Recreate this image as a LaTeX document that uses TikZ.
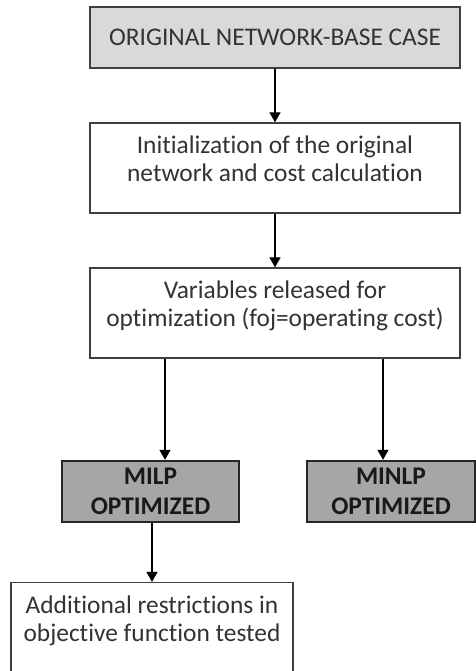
\documentclass[tikz,border=0pt]{standalone}
\usepackage{fontspec}
\setmainfont{Carlito}[Ligatures=NoCommon]
\usetikzlibrary{arrows.meta}
\definecolor{basegray}{RGB}{217,217,217}
\definecolor{optgray}{RGB}{166,166,166}
\definecolor{framegray}{RGB}{64,64,64}

\begin{document}
\begin{tikzpicture}[x=0.5pt, y=-0.5pt,
    stepbox/.style={draw=framegray, line width=0.65pt, fill=white, align=center, inner sep=0pt,
        font=\fontsize{12.7}{14}\selectfont, text=black!80},
    twoline/.style={minimum height=45pt, text depth=8.9pt},
    optbox/.style={draw=black!85, line width=1.2pt, fill=optgray, align=center, inner sep=0pt,
        font=\fontsize{12.7}{15}\selectfont\bfseries, text=black!90, minimum height=30.5pt},
    arrow/.style={black, line width=0.6pt, -{Triangle[width=5.5pt,length=5pt]}}]
    \path[use as bounding box, clip] (0,0) rectangle (476,671);

    % Base case and set-up
    \node[stepbox, fill=basegray, minimum width=185pt, minimum height=30.5pt] (base) at (275,37.5)
        {ORIGINAL NETWORK-BASE CASE};
    \node[stepbox, twoline, minimum width=185pt] (init) at (275,168)
        {Initialization of the original\\network and cost calculation};
    \node[stepbox, twoline, minimum width=185pt] (vars) at (275,313)
        {Variables released for\\optimization (foj=operating cost)};

    % Optimized cases
    \node[optbox, minimum width=88.5pt] (milp) at (150.5,491.5) {MILP\\OPTIMIZED};
    \node[optbox, minimum width=84pt] (minlp) at (391,491.5) {MINLP\\OPTIMIZED};
    \node[stepbox, twoline, minimum width=141pt] (tested) at (152,627.5)
        {Additional restrictions in\\objective function tested};

    % Connectors
    \draw[arrow] (base) -- (init);
    \draw[arrow] (init) -- (vars);
    \draw[arrow] ([xshift=7.25pt]milp.north |- vars.south) -- ([xshift=7.25pt]milp.north);
    \draw[arrow] ([xshift=-4pt]minlp.north |- vars.south) -- ([xshift=-4pt]minlp.north);
    \draw[arrow] (tested.north |- milp.south) -- (tested.north);
\end{tikzpicture}
\end{document}
